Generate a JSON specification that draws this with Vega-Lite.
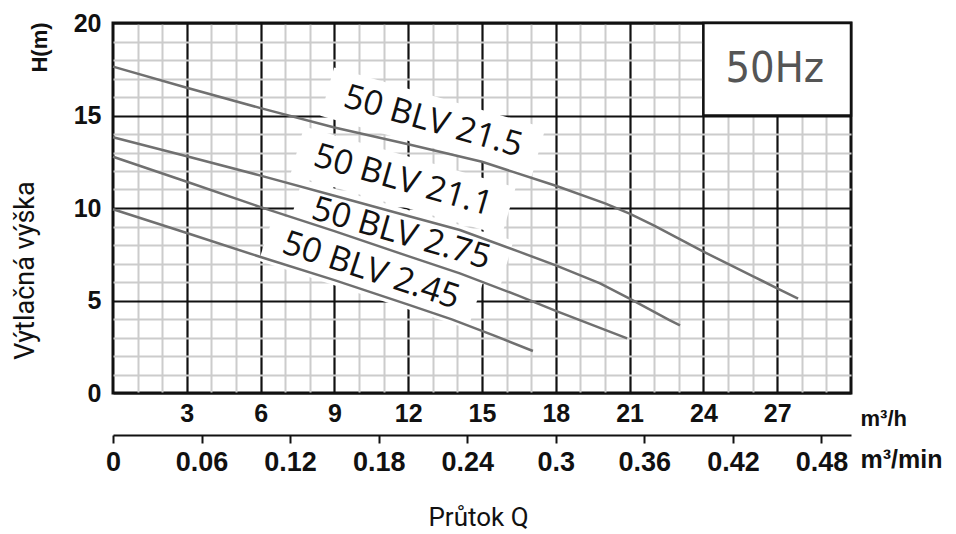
{
  "$schema": "https://vega.github.io/schema/vega-lite/v6.json",
  "width": 738,
  "height": 370,
  "autosize": {"type": "none"},
  "padding": {"left": 113, "top": 23, "right": 105, "bottom": 141},
  "background": "white",
  "config": {
    "view": {"stroke": "#111", "strokeWidth": 3},
    "axis": {"labelOverlap": false, "labelFlush": false}
  },
  "datasets": {
    "curves": [
      {"model": "50 BLV 21.5", "q": 0, "h": 17.64},
      {"model": "50 BLV 21.5", "q": 3, "h": 16.5},
      {"model": "50 BLV 21.5", "q": 6, "h": 15.4},
      {"model": "50 BLV 21.5", "q": 9, "h": 14.35},
      {"model": "50 BLV 21.5", "q": 12, "h": 13.45},
      {"model": "50 BLV 21.5", "q": 15, "h": 12.5},
      {"model": "50 BLV 21.5", "q": 18, "h": 11.2},
      {"model": "50 BLV 21.5", "q": 20, "h": 10.25},
      {"model": "50 BLV 21.5", "q": 21, "h": 9.7},
      {"model": "50 BLV 21.5", "q": 22, "h": 9.05},
      {"model": "50 BLV 21.5", "q": 23, "h": 8.35},
      {"model": "50 BLV 21.5", "q": 24, "h": 7.64},
      {"model": "50 BLV 21.5", "q": 25, "h": 6.98},
      {"model": "50 BLV 21.5", "q": 26, "h": 6.32},
      {"model": "50 BLV 21.5", "q": 27, "h": 5.66},
      {"model": "50 BLV 21.5", "q": 27.85, "h": 5.1},
      {"model": "50 BLV 21.1", "q": 0, "h": 13.82},
      {"model": "50 BLV 21.1", "q": 3, "h": 12.8},
      {"model": "50 BLV 21.1", "q": 6, "h": 11.75},
      {"model": "50 BLV 21.1", "q": 9, "h": 10.66},
      {"model": "50 BLV 21.1", "q": 12, "h": 9.57},
      {"model": "50 BLV 21.1", "q": 14.1, "h": 8.81},
      {"model": "50 BLV 21.1", "q": 16.5, "h": 7.64},
      {"model": "50 BLV 21.1", "q": 18, "h": 6.9},
      {"model": "50 BLV 21.1", "q": 19.8, "h": 5.93},
      {"model": "50 BLV 21.1", "q": 21, "h": 5.1},
      {"model": "50 BLV 21.1", "q": 22.6, "h": 3.95},
      {"model": "50 BLV 21.1", "q": 23.05, "h": 3.65},
      {"model": "50 BLV 2.75", "q": 0, "h": 12.77},
      {"model": "50 BLV 2.75", "q": 3, "h": 11.42},
      {"model": "50 BLV 2.75", "q": 6, "h": 10.05},
      {"model": "50 BLV 2.75", "q": 9, "h": 8.75},
      {"model": "50 BLV 2.75", "q": 12, "h": 7.4},
      {"model": "50 BLV 2.75", "q": 14.1, "h": 6.47},
      {"model": "50 BLV 2.75", "q": 16.5, "h": 5.25},
      {"model": "50 BLV 2.75", "q": 18, "h": 4.44},
      {"model": "50 BLV 2.75", "q": 20.9, "h": 2.95},
      {"model": "50 BLV 2.45", "q": 0, "h": 9.93},
      {"model": "50 BLV 2.45", "q": 3, "h": 8.65},
      {"model": "50 BLV 2.45", "q": 6, "h": 7.35},
      {"model": "50 BLV 2.45", "q": 9, "h": 6.1},
      {"model": "50 BLV 2.45", "q": 12, "h": 4.78},
      {"model": "50 BLV 2.45", "q": 13.8, "h": 3.97},
      {"model": "50 BLV 2.45", "q": 15.5, "h": 3.1},
      {"model": "50 BLV 2.45", "q": 17.07, "h": 2.27}
    ],
    "labels": [
      {"label": "50 BLV 21.5", "q": 13.01, "h": 14.65, "qa": 8.71, "ha": 16.29, "qb": 17.3, "hb": 13.02},
      {"label": "50 BLV 21.1", "q": 11.79, "h": 11.46, "qa": 7.49, "ha": 13.1, "qb": 16.09, "hb": 9.82},
      {"label": "50 BLV 2.75", "q": 11.71, "h": 8.59, "qa": 7.41, "ha": 10.24, "qb": 16.0, "hb": 6.95},
      {"label": "50 BLV 2.45", "q": 10.49, "h": 6.59, "qa": 6.24, "ha": 8.43, "qb": 14.74, "hb": 4.76}
    ],
    "freq": [
      {"text": "50Hz", "q0": 24, "q1": 30, "h0": 15, "h1": 20, "q": 26.9, "h": 17.5}
    ]
  },
  "layer": [
    {
      "data": {"name": "labels"},
      "mark": {"type": "rule", "color": "white", "strokeWidth": 50},
      "encoding": {
        "x": {
          "field": "qa", "type": "quantitative",
          "scale": {"domain": [0, 30], "nice": false, "zero": false},
          "axis": {
            "orient": "bottom",
            "values": [1, 2, 4, 5, 7, 8, 10, 11, 13, 14, 16, 17, 19, 20, 22, 23, 25, 26, 28, 29],
            "grid": true, "gridColor": "#cccccc", "gridWidth": 2,
            "labels": false, "ticks": false, "domain": false,
            "title": "Průtok Q", "titleX": 365, "titleY": 124,
            "titleAlign": "center", "titleBaseline": "middle", "titleAngle": 0,
            "titleFont": "Roboto", "titleFontSize": 26, "titleFontWeight": "normal", "titleColor": "#111"
          }
        },
        "x2": {"field": "qb"},
        "y": {
          "field": "ha", "type": "quantitative",
          "scale": {"domain": [0, 20], "nice": false, "zero": false},
          "axis": {
            "orient": "left",
            "values": [1, 2, 3, 4, 6, 7, 8, 9, 11, 12, 13, 14, 16, 17, 18, 19],
            "grid": true, "gridColor": "#cccccc", "gridWidth": 2,
            "labels": false, "ticks": false, "domain": false,
            "title": "H(m)", "titleX": -74, "titleY": 24, "titleAngle": -90,
            "titleAlign": "center", "titleBaseline": "middle",
            "titleFont": "Liberation Sans", "titleFontSize": 22, "titleFontWeight": "bold", "titleColor": "#111"
          }
        },
        "y2": {"field": "hb"}
      }
    },
    {
      "data": {"name": "freq"},
      "mark": {"type": "rect", "fill": "white", "stroke": "#111", "strokeWidth": 2.5},
      "encoding": {
        "x": {
          "field": "q0", "type": "quantitative",
          "axis": {
            "orient": "bottom",
            "values": [3, 6, 9, 12, 15, 18, 21, 24, 27],
            "grid": true, "gridColor": "#111", "gridWidth": 2.2,
            "ticks": false, "domain": false,
            "labelFont": "Liberation Sans", "labelFontWeight": "bold", "labelFontSize": 25,
            "labelColor": "#111", "labelPadding": 8,
            "title": "m³/h", "titleX": 747, "titleY": 25, "titleAngle": 0,
            "titleAlign": "left", "titleBaseline": "middle",
            "titleFont": "Liberation Sans", "titleFontSize": 22, "titleFontWeight": "bold", "titleColor": "#111"
          }
        },
        "x2": {"field": "q1"},
        "y": {
          "field": "h0", "type": "quantitative",
          "axis": {
            "orient": "left",
            "values": [0, 5, 10, 15, 20],
            "grid": true, "gridColor": "#111", "gridWidth": 2.2,
            "ticks": false, "domain": false,
            "labelFont": "Liberation Sans", "labelFontWeight": "bold", "labelFontSize": 25,
            "labelColor": "#111", "labelPadding": 12,
            "title": "Výtlačná výška", "titleX": -88, "titleY": 247, "titleAngle": -90,
            "titleAlign": "center", "titleBaseline": "middle",
            "titleFont": "Roboto", "titleFontSize": 27, "titleFontWeight": "normal", "titleColor": "#111"
          }
        },
        "y2": {"field": "h1"}
      }
    },
    {
      "data": {"name": "curves"},
      "mark": {"type": "line", "color": "#707070", "strokeWidth": 2.5},
      "encoding": {
        "x": {
          "field": "q", "type": "quantitative",
          "axis": {
            "orient": "bottom", "offset": 42,
            "values": [0, 3.6, 7.2, 10.8, 14.4, 18, 21.6, 25.2, 28.8],
            "labelExpr": "format(datum.value / 60, '.2~f')",
            "grid": false,
            "domain": true, "domainColor": "#111", "domainWidth": 2,
            "ticks": true, "tickColor": "#111", "tickWidth": 2, "tickSize": 8,
            "labelFont": "Liberation Sans", "labelFontWeight": "bold", "labelFontSize": 27,
            "labelColor": "#111", "labelPadding": 6,
            "title": "m³/min", "titleX": 747, "titleY": 24, "titleAngle": 0,
            "titleAlign": "left", "titleBaseline": "middle",
            "titleFont": "Liberation Sans", "titleFontSize": 25, "titleFontWeight": "bold", "titleColor": "#111"
          }
        },
        "y": {"field": "h", "type": "quantitative", "axis": null},
        "detail": {"field": "model"}
      }
    },
    {
      "data": {"name": "labels"},
      "transform": [{"filter": "datum.label != '50 BLV 2.45'"}],
      "mark": {"type": "text", "font": "Open Sans", "fontSize": 34, "color": "#111", "angle": 16, "align": "center", "baseline": "middle"},
      "encoding": {
        "x": {"field": "q", "type": "quantitative", "axis": null},
        "y": {"field": "h", "type": "quantitative", "axis": null},
        "text": {"field": "label"}
      }
    },
    {
      "data": {"name": "labels"},
      "transform": [{"filter": "datum.label == '50 BLV 2.45'"}],
      "mark": {"type": "text", "font": "Open Sans", "fontSize": 34, "color": "#111", "angle": 18, "align": "center", "baseline": "middle"},
      "encoding": {
        "x": {"field": "q", "type": "quantitative", "axis": null},
        "y": {"field": "h", "type": "quantitative", "axis": null},
        "text": {"field": "label"}
      }
    },
    {
      "data": {"name": "freq"},
      "mark": {"type": "text", "font": "DejaVu Sans Condensed, Liberation Sans", "fontSize": 43, "color": "#555", "align": "center", "baseline": "middle"},
      "encoding": {
        "x": {"field": "q", "type": "quantitative", "axis": null},
        "y": {"field": "h", "type": "quantitative", "axis": null},
        "text": {"field": "text"}
      }
    }
  ],
  "resolve": {"axis": {"x": "independent", "y": "independent"}}
}
